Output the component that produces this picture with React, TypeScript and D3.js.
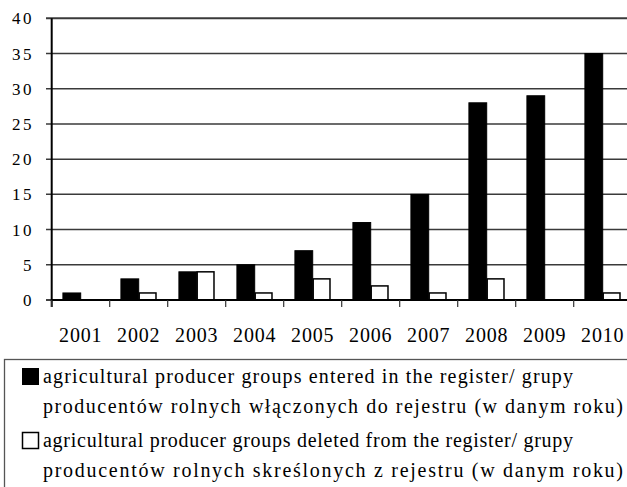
import React from "react";
import * as d3 from "d3";

const years = ["2001", "2002", "2003", "2004", "2005", "2006", "2007", "2008", "2009", "2010"];
const entered = [1, 3, 4, 5, 7, 11, 15, 28, 29, 35];
const deleted = [0, 1, 4, 1, 3, 2, 1, 3, 0, 1];
const yTicks = [0, 5, 10, 15, 20, 25, 30, 35, 40];
const seriesKeys = ["entered", "deleted"];
const legendLines = [
  "agricultural producer groups entered in the register/ grupy",
  "producentów rolnych włączonych do rejestru (w danym roku)",
  "agricultural producer groups deleted from the register/ grupy",
  "producentów rolnych skreślonych z rejestru (w danym roku)",
];

const W = 627;
const H = 487;
const FONT = "Times New Roman";

export default function App() {
  const x0 = d3.scaleBand<string>().domain(years).range([51.7, 631.7]).padding(0);
  const x1 = d3
    .scaleBand<string>()
    .domain(seriesKeys)
    .range([0, x0.bandwidth()])
    .paddingInner(0)
    .paddingOuter(0.63);
  const y = d3.scaleLinear().domain([0, 40]).range([300, 18.3]);

  const data = years.map((yr, i) => ({ yr, entered: entered[i], deleted: deleted[i] }));

  return (
    <svg
      width={W}
      height={H}
      fontFamily={FONT}
      style={{ position: "absolute", left: 0, top: 0, background: "#fff" }}
    >
      <rect x={0} y={0} width={W} height={H} fill="#fff" />
      {yTicks.map((t) => (
        <g key={t}>
          <line x1={46} x2={W} y1={y(t)} y2={y(t)} stroke={t === 0 ? "#000" : "#3a3a3a"} strokeWidth={t === 40 ? 2 : 1.5} />
          <text
            x={34}
            y={y(t) + 6}
            textAnchor="end"
            fontSize={17}
            fontFamily={FONT}
            letterSpacing={2.5}
            fill="#000"
          >
            {t}
          </text>
        </g>
      ))}
      {data.map((d) => (
        <g key={d.yr} transform={`translate(${x0(d.yr)},0)`}>
          <rect
            x={x1("entered")}
            y={y(d.entered)}
            width={x1.bandwidth()}
            height={y(0) - y(d.entered)}
            fill="#000"
            stroke="#000"
            strokeWidth={1}
          />
          {d.deleted > 0 && (
            <rect
              x={(x1("deleted") as number) + 0.5}
              y={y(d.deleted)}
              width={x1.bandwidth() - 1}
              height={y(0) - y(d.deleted)}
              fill="#fff"
              stroke="#000"
              strokeWidth={1.5}
            />
          )}
        </g>
      ))}
      <line x1={51.7} x2={51.7} y1={18.3} y2={307} stroke="#000" strokeWidth={2} />
      <line x1={51.7} x2={W} y1={300} y2={300} stroke="#000" strokeWidth={2} />
      {years.map((yr) => (
        <line
          key={"t" + yr}
          x1={x0(yr) as number}
          x2={x0(yr) as number}
          y1={300}
          y2={307}
          stroke="#333"
          strokeWidth={1.2}
        />
      ))}
      {years.map((yr) => (
        <text
          key={"l" + yr}
          x={(x0(yr) as number) + x0.bandwidth() / 2}
          y={341.5}
          textAnchor="middle"
          fontSize={20}
          fontFamily={FONT}
          letterSpacing={0.8}
          fill="#000"
        >
          {yr}
        </text>
      ))}
      <rect x={4.5} y={359.5} width={640} height={140} fill="#fff" stroke="#555" strokeWidth={1.3} />
      <rect x={22.5} y={368.5} width={16} height={16} fill="#000" stroke="#000" strokeWidth={1} />
      <rect x={22.5} y={432.5} width={16} height={16} fill="#fff" stroke="#000" strokeWidth={1.5} />
      {legendLines.map((ln, i) => (
        <text
          key={"lg" + i}
          x={43}
          y={[383, 413, 447, 477][i]}
          fontSize={20}
          fontFamily={FONT}
          textLength={[530, 580, 530, 580][i]}
          lengthAdjust="spacing"
          fill="#000"
        >
          {ln}
        </text>
      ))}
    </svg>
  );
}
